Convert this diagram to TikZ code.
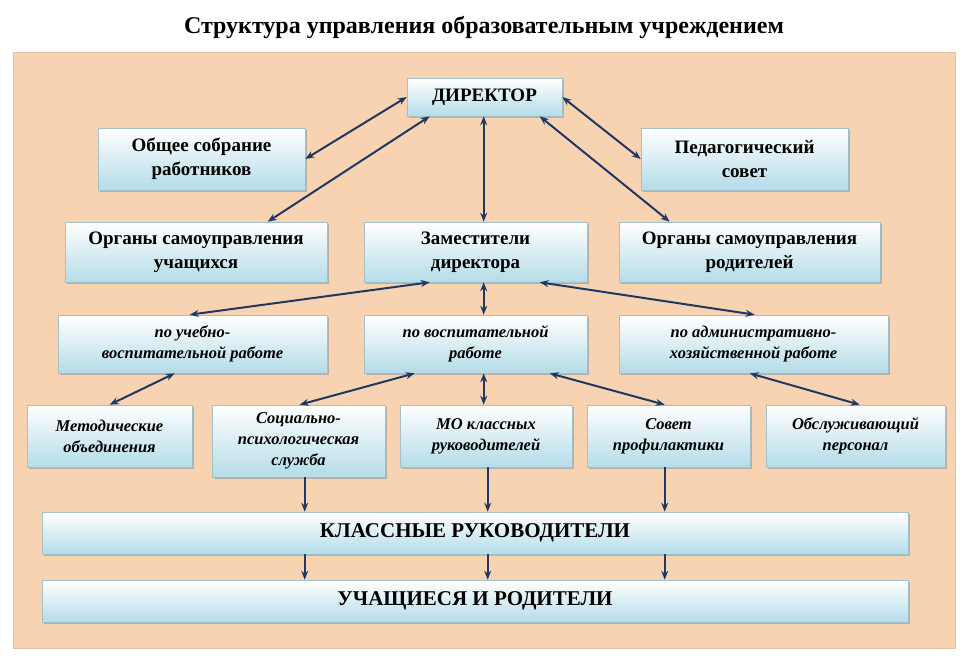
\documentclass[tikz,border=0pt]{standalone}
\usepackage{fontspec}
\setmainfont{Liberation Serif}
\usetikzlibrary{shadows,arrows.meta,calc}
\definecolor{peach}{HTML}{F8D3B2}
\definecolor{lblue}{HTML}{B4DCE8}
\definecolor{navy}{HTML}{1F3864}
\tikzset{
 box/.style={draw=lblue!70!gray,line width=0.6pt,top color=white,bottom color=lblue,
   drop shadow={shadow xshift=2pt,shadow yshift=-2pt,fill=gray!70,opacity=0.8},
   align=center,font=\bfseries\fontsize{19}{24}\selectfont,inner sep=2pt},
 sbox/.style={box,font=\bfseries\itshape\fontsize{16.5}{21}\selectfont},
 bar/.style={box,font=\bfseries\fontsize{21}{24}\selectfont},
 link/.style={{Stealth[length=9pt,width=7pt]}-{Stealth[length=9pt,width=7pt]},navy,line width=2pt},
 one/.style={-{Stealth[length=9pt,width=7pt]},navy,line width=2pt},
}
\newcommand{\bx}[7]{\node[#1,minimum width=#4-#3,minimum height=#6-#5] (#2) at ({(#3+#4)/2},{(#5+#6)/2}) {#7};}
\begin{document}
\begin{tikzpicture}[x=1pt,y=-1pt]
\useasboundingbox (0,0) rectangle (969,665);
\fill[white] (0,0) rectangle (969,665);
\fill[peach] (13,52) rectangle (955,648);
\draw[peach!80!gray,line width=0.6pt] (13,52) rectangle (955,648);
\node[font=\bfseries\fontsize{24}{28}\selectfont] (title) at (484,27) {Структура управления образовательным учреждением};
\bx{box}{dir}{407}{562}{78}{116}{ДИРЕКТОР}
\bx{box}{sob}{98}{305}{128}{190}{Общее собрание\\работников}
\bx{box}{ped}{641}{848}{128}{190}{Педагогический\\совет}
\bx{box}{uch}{65}{327}{222}{282}{Органы самоуправления\\учащихся}
\bx{box}{zam}{364}{587}{222}{282}{Заместители\\директора}
\bx{box}{rod}{619}{880}{222}{282}{Органы самоуправления\\родителей}
\bx{sbox}{ucheb}{58}{327}{315}{373}{по учебно-\\воспитательной работе}
\bx{sbox}{vos}{364}{587}{315}{373}{по воспитательной\\работе}
\bx{sbox}{adm}{619}{888}{315}{373}{по административно-\\хозяйственной работе}
\bx{sbox}{met}{27}{192}{405}{467}{Методические\\объединения}
\bx{sbox}{soc}{212}{385}{405}{477}{Социально-\\психологическая\\служба}
\bx{sbox}{mo}{400}{572}{405}{467}{МО классных\\руководителей}
\bx{sbox}{sov}{587}{750}{405}{467}{Совет\\профилактики}
\bx{sbox}{obs}{766}{945}{405}{467}{Обслуживающий\\персонал}
\bx{bar}{kl}{42}{908}{512}{554}{КЛАССНЫЕ РУКОВОДИТЕЛИ}
\bx{bar}{ur}{42}{908}{580}{622}{УЧАЩИЕСЯ И РОДИТЕЛИ}
\draw[link] (dir.west) -- (sob.east);
\draw[link] ($(dir.south west)+(23,0)$) -- ($(uch.north west)+(203,0)$);
\draw[link] ($(dir.south west)+(77,0)$) -- ($(zam.north west)+(120,0)$);
\draw[link] ($(dir.south west)+(133,0)$) -- ($(rod.north west)+(51,0)$);
\draw[link] (dir.east) -- (ped.west);
\draw[link] ($(zam.south west)+(66,0)$) -- ($(ucheb.north west)+(132,0)$);
\draw[link] ($(zam.south west)+(120,0)$) -- ($(vos.north west)+(120,0)$);
\draw[link] ($(zam.south west)+(176,0)$) -- ($(adm.north west)+(136,0)$);
\draw[link] ($(ucheb.south west)+(117,0)$) -- ($(met.north west)+(83,0)$);
\draw[link] ($(vos.south west)+(51,0)$) -- ($(soc.north west)+(88,0)$);
\draw[link] ($(vos.south west)+(120,0)$) -- ($(mo.north west)+(84,0)$);
\draw[link] ($(vos.south west)+(186,0)$) -- ($(sov.north west)+(78,0)$);
\draw[link] ($(adm.south west)+(131,0)$) -- ($(obs.north west)+(94,0)$);
\draw[one] ($(soc.south west)+(93,0)$) -- ($(kl.north west)+(263,0)$);
\draw[one] ($(mo.south west)+(88,0)$) -- ($(kl.north west)+(446,0)$);
\draw[one] ($(sov.south west)+(78,0)$) -- ($(kl.north west)+(623,0)$);
\draw[one] ($(kl.south west)+(263,0)$) -- ($(ur.north west)+(263,0)$);
\draw[one] ($(kl.south west)+(446,0)$) -- ($(ur.north west)+(446,0)$);
\draw[one] ($(kl.south west)+(623,0)$) -- ($(ur.north west)+(623,0)$);
\end{tikzpicture}
\end{document}
